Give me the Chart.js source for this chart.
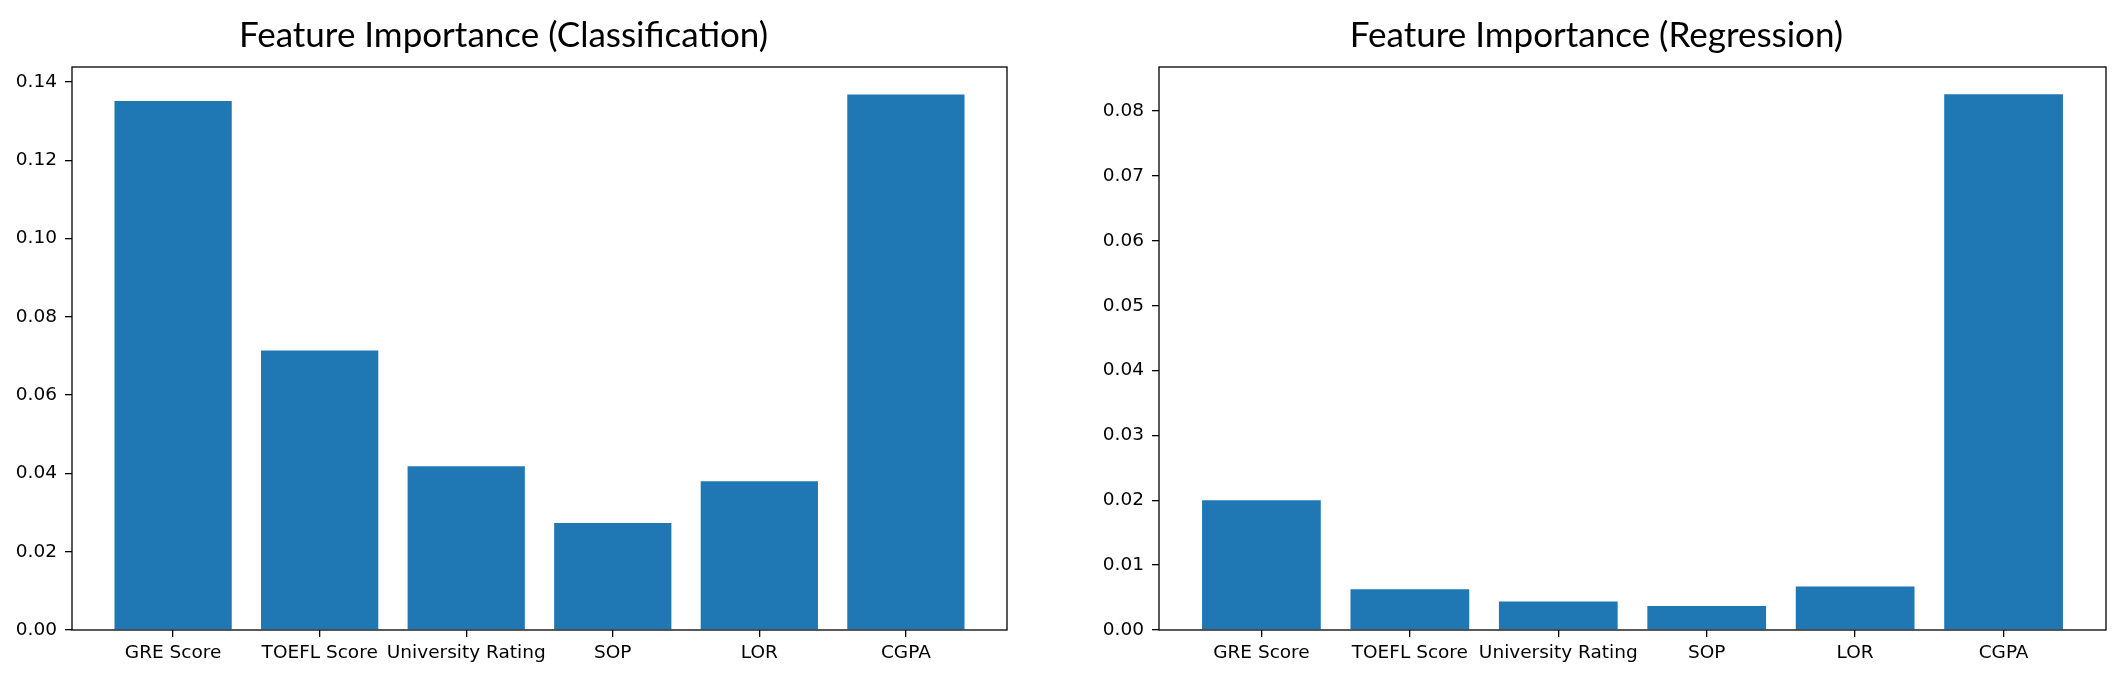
<!DOCTYPE html>
<html>
<head>
<meta charset="utf-8">
<script src="https://cdn.jsdelivr.net/npm/chart.js@4.4.1/dist/chart.umd.min.js"></script>
<style>
  html, body { margin: 0; padding: 0; background: #fff; overflow: hidden; width: 2128px; height: 674px; }
  canvas { position: absolute; top: 0; }
  #chartClassification { left: 0px; }
  #chartRegression { left: 1087px; }
</style>
</head>
<body>
<canvas id="chartClassification" width="1020" height="674"></canvas>
<canvas id="chartRegression" width="1060" height="674"></canvas>
<script>
var features = ['GRE Score', 'TOEFL Score', 'University Rating', 'SOP', 'LOR', 'CGPA'];
var importanceClassification = [0.1351, 0.0714, 0.0418, 0.0273, 0.0380, 0.1368];
var importanceRegression = [0.0200, 0.0063, 0.0044, 0.0037, 0.0067, 0.0826];
var yMaxClassification = 0.1438;
var yMaxRegression = 0.0868;
var yStepClassification = 0.02;
var yStepRegression = 0.01;

var barColor = '#1f77b4';
var tickFont = { family: 'DejaVu Sans', size: 18.5 };

// box round the plot area, like matplotlib axes spines
var framePlugin = {
  id: 'frame',
  afterDraw: function (chart) {
    var a = chart.chartArea;
    var ctx = chart.ctx;
    ctx.save();
    ctx.strokeStyle = '#000';
    ctx.lineWidth = 1.3;
    ctx.strokeRect(a.left, a.top, a.right - a.left, a.bottom - a.top);
    ctx.restore();
  }
};

function makeChart(canvasId, title, values, yMax, yStep, rightPad) {
  var points = values.map(function (v, i) { return { x: i, y: v }; });

  return new Chart(document.getElementById(canvasId), {
    type: 'bar',
    data: {
      datasets: [{
        data: points,
        backgroundColor: barColor,
        borderWidth: 0,
        barPercentage: 0.8,
        categoryPercentage: 1.0
      }]
    },
    plugins: [framePlugin],
    options: {
      responsive: false,
      animation: false,
      devicePixelRatio: 1,
      layout: {
        padding: { left: 0, right: rightPad, top: 0, bottom: 0 }
      },
      scales: {
        x: {
          type: 'linear',
          offset: false,
          min: -0.69,
          max: features.length - 1 + 0.69,
          afterBuildTicks: function (scale) {
            scale.ticks = features.map(function (f, i) { return { value: i }; });
          },
          afterFit: function (scale) { scale.height = 44; },
          grid: { offset: false, drawOnChartArea: false, drawTicks: true, tickLength: 7, color: '#000', lineWidth: 1.3 },
          border: { display: false },
          ticks: {
            color: '#000',
            font: tickFont,
            padding: 5,
            maxRotation: 0,
            autoSkip: false,
            callback: function (value) { return features[value]; }
          }
        },
        y: {
          min: 0,
          max: yMax,
          afterBuildTicks: function (scale) {
            var t = [];
            for (var i = 0; i * yStep <= yMax + 1e-9; i++) t.push({ value: i * yStep });
            scale.ticks = t;
          },
          afterFit: function (scale) { scale.width = 72; },
          grid: { drawOnChartArea: false, drawTicks: true, tickLength: 7, color: '#000', lineWidth: 1.3 },
          border: { display: false },
          ticks: {
            color: '#000',
            font: tickFont,
            padding: 8,
            callback: function (value) { return value.toFixed(2); }
          }
        }
      },
      plugins: {
        legend: { display: false },
        tooltip: { enabled: false },
        title: {
          display: true,
          text: title,
          color: '#000',
          font: { family: 'Lato', size: 35, weight: 'normal', lineHeight: 1.0 },
          padding: { top: 18, bottom: 14 }
        }
      }
    }
  });
}

makeChart('chartClassification', 'Feature Importance (Classification)',
  importanceClassification, yMaxClassification, yStepClassification, 13);
makeChart('chartRegression', 'Feature Importance (Regression)',
  importanceRegression, yMaxRegression, yStepRegression, 41);
</script>
</body>
</html>
